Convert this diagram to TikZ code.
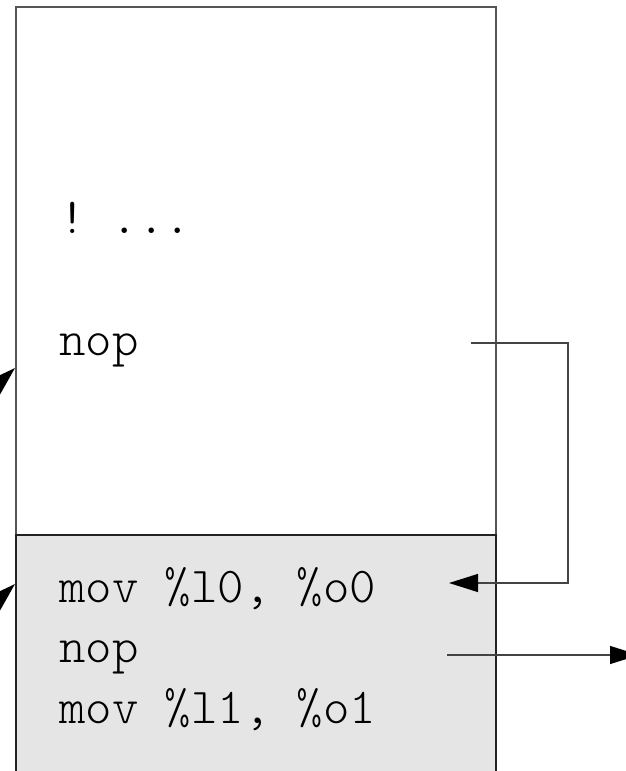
\documentclass[tikz,border=0pt]{standalone}
\usepackage{fontspec}
\newfontfamily\codefont{Latin Modern Mono Light}
\usetikzlibrary{arrows.meta}
\definecolor{boxline}{HTML}{555555}
\definecolor{darkline}{HTML}{222222}
\definecolor{wirecol}{HTML}{444444}
\definecolor{shade}{HTML}{E5E5E5}
\tikzset{
  code/.style={anchor=base west, inner sep=0pt, font=\fontsize{50.3}{54}\selectfont\codefont, text=black},
  wire/.style={draw=wirecol, line width=1.3pt},
  bigtip/.style={-{Triangle[length=29pt,width=18pt,color=black]}},
}
\begin{document}
\begin{tikzpicture}[x=1pt,y=-1pt]
\clip (0,0) rectangle (626,771);
\useasboundingbox (0,0) rectangle (626,771);
% boxes
\draw[boxline, line width=1.5pt] (16,535) -- (16,7) -- (496,7) -- (496,535);
\filldraw[fill=shade, draw=darkline, line width=1.5pt] (16,790) -- (16,535) -- (496,535) -- (496,790);
% texts
\node[code] (t1) at (59,233) {!\ ...};
\node[code] (t2) at (59,355) {nop};
\node[code] (t3) at (59,602) {mov \%l0, \%o0};
\node[code] (t4) at (59,662) {nop};
\node[code] (t5) at (59,723) {mov \%l1, \%o1};
% connector coordinates
\coordinate (a0) at (471,343);
\coordinate (a1) at (568,343);
\coordinate (a2) at (568,583);
\coordinate (a3) at (449,583);
\coordinate (b0) at (447,655);
\coordinate (b1) at (639,655);
\coordinate (c0) at (-29,409);
\coordinate (c1) at (15,368);
\coordinate (d0) at (-29,625);
\coordinate (d1) at (15,584);
\draw[wire, bigtip] (a0) -- (a1) -- (a2) -- (a3);
\draw[wire, bigtip] (b0) -- (b1);
\draw[wire, bigtip] (c0) -- (c1);
\draw[wire, bigtip] (d0) -- (d1);
\end{tikzpicture}
\end{document}
